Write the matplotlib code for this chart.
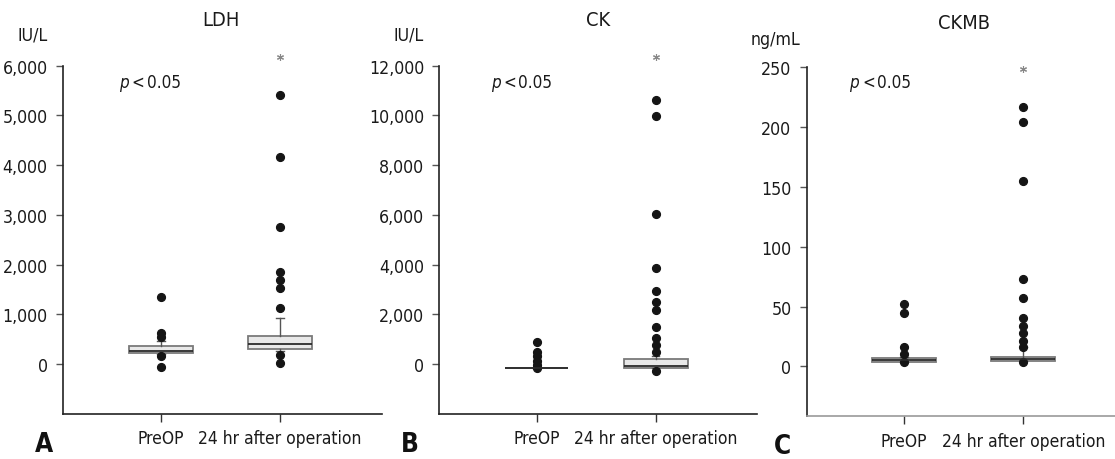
import os
import matplotlib
matplotlib.use('Agg')
import matplotlib.pyplot as plt
from matplotlib import font_manager as fm
from matplotlib.font_manager import FontProperties
from matplotlib.textpath import TextPath
from matplotlib.ticker import FuncFormatter

# ---------------- data ----------------
categories = ['PreOP', '24 hr after operation']
panel_titles = ['LDH', 'CK', 'CKMB']
units = ['IU/L', 'IU/L', 'ng/mL']
panel_letters = ['A', 'B', 'C']
p_parts = ['p', '<', '0.05']

# box stats: whislo, q1, median, q3, whishi
ldh_pre_box = [215, 227, 273, 361, 474]
ldh_pre_out = [1357, 622, 554, 173, -60]
ldh_post_box = [273, 307, 408, 568, 924]
ldh_post_out = [5408, 4157, 2751, 1847, 1693, 1539, 1124, 187, 26]

ck_pre_box = [-149, -149, -149, -149, -149]
ck_pre_out = [884, 482, 321, 145, -16, -149]
ck_post_box = [-161, -161, -56, 213, 345]
ck_post_out = [10616, 9987, 6036, 3855, 2932, 2490, 2181, 1486, 1044, 775, 506, -257]

ckmb_pre_box = [3.9, 3.9, 5.0, 6.7, 8.0]
ckmb_pre_out = [52, 44.5, 16.4, 10.3, 3.3]
ckmb_post_box = [4.7, 4.7, 6.0, 8.0, 15.9]
ckmb_post_out = [217, 204, 155, 73, 57.4, 40.1, 33.7, 27.6, 21.4, 16.4, 3.3]

ldh_yticks = [0, 1000, 2000, 3000, 4000, 5000, 6000]
ck_yticks = [0, 2000, 4000, 6000, 8000, 10000, 12000]
ckmb_yticks = [0, 50, 100, 150, 200, 250]

ylims = [(-1000, 6000), (-2000, 12000), (-41.8, 250)]
star_values = [6169, 12337, 248.6]

panels = [
    (panel_titles[0], units[0], panel_letters[0],
     [ldh_pre_box, ldh_post_box], [ldh_pre_out, ldh_post_out], ldh_yticks),
    (panel_titles[1], units[1], panel_letters[1],
     [ck_pre_box, ck_post_box], [ck_pre_out, ck_post_out], ck_yticks),
    (panel_titles[2], units[2], panel_letters[2],
     [ckmb_pre_box, ckmb_post_box], [ckmb_pre_out, ckmb_post_out], ckmb_yticks),
]

# ---------------- fonts ----------------
def find_file(names):
    files = {os.path.basename(f.fname): f.fname for f in fm.fontManager.ttflist}
    for n in names:
        if n in files:
            return files[n]
    return None


reg_file = find_file(['LiberationSansNarrow-Regular.ttf', 'DejaVuSansCondensed.ttf',
                      'RobotoCondensed-Regular.ttf', 'LiberationSans-Regular.ttf'])
bold_file = find_file(['LiberationSansNarrow-Bold.ttf', 'DejaVuSansCondensed-Bold.ttf',
                       'RobotoCondensed-Bold.ttf', 'LiberationSans-Bold.ttf'])
ital_file = find_file(['LiberationSansNarrow-Italic.ttf', 'DejaVuSansCondensed-Oblique.ttf',
                       'RobotoCondensed-Italic.ttf', 'LiberationSans-Italic.ttf'])


def make_fp(fname, **fallback):
    if fname:
        return FontProperties(fname=fname)
    return FontProperties(family='DejaVu Sans', **fallback)


FP_REG = make_fp(reg_file)
FP_BOLD = make_fp(bold_file, weight='bold')
FP_ITAL = make_fp(ital_file, style='italic')


def ink_width_px(s, fp, size=10.0):
    tp = TextPath((0, 0), s, size=size, prop=fp)
    return tp.get_extents().width * 100 / 72.0


def fit_size(s, fp, target_px):
    return 10.0 * target_px / ink_width_px(s, fp, 10.0)


def fprop(fp, size):
    f = fp.copy()
    f.set_size(size)
    return f


xtick_size = fit_size('24 hr after operation', FP_REG, 161)
ytick_size = fit_size('6,000', FP_REG, 43.3)
title_size = fit_size('CKMB', FP_REG, 50)
unit_size = fit_size('ng/mL', FP_REG, 48.3)
p_size = fit_size('0.05', FP_REG, 31.7)
letter_size = fit_size('A', FP_BOLD, 18)

# ---------------- layout (pixels) ----------------
W, H = 1115, 460
fig = plt.figure(figsize=(W / 100, H / 100), dpi=100)

axes_px = [(63, 382, 66.7, 415), (439.3, 757, 66.7, 415), (806.7, 1115, 68.3, 417.3)]
xlims = [(0.176, 2.857), (0.184, 2.85), (0.184, 2.77)]
title_px = [(221, 20), (597.7, 20), (964, 23.5)]
unit_px = [(32.5, 36), (409, 36), (776, 40)]
letter_px = [(44, 445), (409.7, 445), (782, 447)]
p_px = [(119, 83), (490.7, 82.7), (849.3, 82.7)]
p_offsets = [0, 12.7, 27.7]


def fx(x):
    return x / W


def fy(y):
    return 1 - y / H


for i, (title, unit, letter, boxes, outs, yticks) in enumerate(panels):
    l, r, t, b = axes_px[i]
    ax = fig.add_axes([fx(l), fy(b), (r - l) / W, (b - t) / H])
    stats = []
    for bx, out in zip(boxes, outs):
        stats.append(dict(whislo=bx[0], q1=bx[1], med=bx[2], q3=bx[3],
                          whishi=bx[4], fliers=out))
    ax.bxp(stats, positions=[1, 2], widths=0.536, patch_artist=True,
           showfliers=True, capwidths=0.06,
           boxprops=dict(facecolor='#e8e8e8', edgecolor='#7a7a7a', linewidth=1.3),
           medianprops=dict(color='#2a2a2a', linewidth=1.3),
           whiskerprops=dict(color='#555555', linewidth=1.0),
           capprops=dict(color='#555555', linewidth=1.0),
           flierprops=dict(marker='o', markersize=5.6, markerfacecolor='#151515',
                           markeredgecolor='#151515', linestyle='none'))
    ax.plot([2], [star_values[i]], linestyle='none', marker=(6, 2, 0),
            markersize=5, color='#888888', markeredgewidth=0.8, clip_on=False)

    ax.set_xlim(*xlims[i])
    ax.set_ylim(*ylims[i])
    ax.set_yticks(yticks)
    ax.yaxis.set_major_formatter(FuncFormatter(lambda v, p: f"{v:,.0f}"))
    ax.set_xticks([1, 2])
    ax.set_xticklabels(categories)

    for s in ['top', 'right']:
        ax.spines[s].set_visible(False)
    ax.spines['left'].set_color('#222222')
    ax.spines['left'].set_linewidth(1.2)
    ax.spines['bottom'].set_linewidth(1.2)
    ax.spines['bottom'].set_color('#999999' if i == 2 else '#222222')
    ax.spines['left'].set_bounds(ylims[i][0], yticks[-1])

    ax.tick_params(axis='y', length=5, width=1, color='#555555', pad=6,
                   labelcolor='#1a1a1a')
    ax.tick_params(axis='x', length=6, width=1, color='#333333', pad=5,
                   labelcolor='#1a1a1a')
    for lab in ax.get_yticklabels():
        lab.set_fontproperties(fprop(FP_REG, ytick_size))
    for lab in ax.get_xticklabels():
        lab.set_fontproperties(fprop(FP_REG, xtick_size))

    px, py = p_px[i]
    for j, part in enumerate(p_parts):
        fp = FP_ITAL if j == 0 else FP_REG
        fig.text(fx(px + p_offsets[j]), fy(py), part, fontproperties=fprop(fp, p_size),
                 ha='left', va='center', color='#1a1a1a')

    fig.text(fx(title_px[i][0]), fy(title_px[i][1]), title,
             fontproperties=fprop(FP_REG, title_size),
             ha='center', va='center', color='#1a1a1a')
    fig.text(fx(unit_px[i][0]), fy(unit_px[i][1]), unit,
             fontproperties=fprop(FP_REG, unit_size),
             ha='center', va='center', color='#1a1a1a')
    fig.text(fx(letter_px[i][0]), fy(letter_px[i][1]), letter,
             fontproperties=fprop(FP_BOLD, letter_size),
             ha='center', va='center', color='#111111')

fig.savefig('out.png', dpi=100)
